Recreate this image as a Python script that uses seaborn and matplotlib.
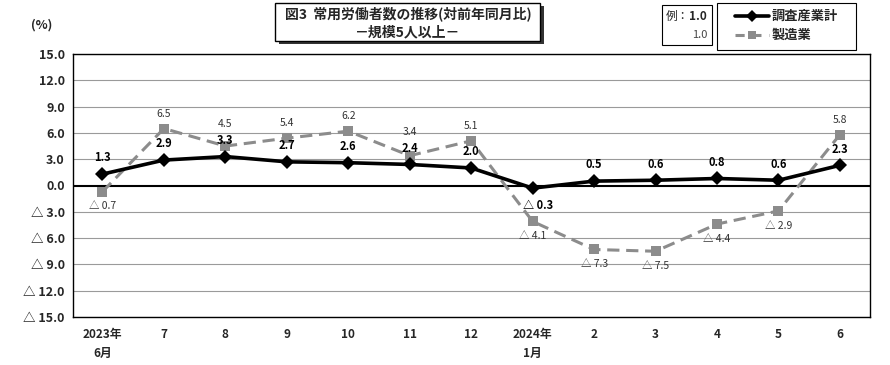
import matplotlib
matplotlib.use("Agg")
import matplotlib.pyplot as plt
import seaborn as sns
import pandas as pd
from matplotlib.lines import Line2D
from matplotlib.patches import Rectangle

months = ["2023年\n6月", "7", "8", "9", "10", "11", "12", "2024年\n1月", "2", "3", "4", "5", "6"]
total = [1.3, 2.9, 3.3, 2.7, 2.6, 2.4, 2.0, -0.3, 0.5, 0.6, 0.8, 0.6, 2.3]
manuf = [-0.7, 6.5, 4.5, 5.4, 6.2, 3.4, 5.1, -4.1, -7.3, -7.5, -4.4, -2.9, 5.8]
yticks = [15, 12, 9, 6, 3, 0, -3, -6, -9, -12, -15]
series_names = ["調査産業計", "製造業"]

sns.set_theme(style="white")
FAM = ["Noto Sans CJK JP", "DejaVu Sans"]
plt.rcParams["font.family"] = FAM

def fmt(v):
    return f"{v:.1f}" if v >= 0 else f"△ {abs(v):.1f}"

W, H = 890, 365
def fx(x): return x / W
def fy(y): return 1 - y / H

fig = plt.figure(figsize=(8.9, 3.65), dpi=100)
ax = fig.add_axes([fx(73), fy(317), (870-73)/W, (317-54)/H])

idx = list(range(len(months)))
df = pd.DataFrame({"pos": idx * 2,
                   "val": total + manuf,
                   "series": [series_names[0]] * len(idx) + [series_names[1]] * len(idx)})

for y in yticks:
    if y != 0:
        ax.axhline(y, color="#9a9a9a", lw=0.8, zorder=0)
ax.axhline(0, color="black", lw=1.5, zorder=1)

GREY = "#8c8c8c"
sns.lineplot(data=df[df.series == series_names[1]], x="pos", y="val", ax=ax,
             color=GREY, lw=2.2, linestyle=(0, (4, 2.2)), marker="s",
             markersize=7, markeredgewidth=0, legend=False, zorder=3)
sns.lineplot(data=df[df.series == series_names[0]], x="pos", y="val", ax=ax,
             color="black", lw=2.6, marker="D", markersize=7,
             markeredgewidth=0, legend=False, zorder=4)

# data labels
for i, v in enumerate(total):
    if v >= 0:
        ax.annotate(fmt(v), (i, v), xytext=(0, 7), textcoords="offset points",
                    ha="center", va="bottom", fontsize=8, fontweight="bold", color="black")
    else:
        ax.annotate(fmt(v), (i, v), xytext=(4, -8), textcoords="offset points",
                    ha="center", va="top", fontsize=8, fontweight="bold", color="black")
for i, v in enumerate(manuf):
    if v >= 0:
        if i in (2, 5):
            ax.annotate(fmt(v), (i, total[i]), xytext=(0, 20), textcoords="offset points",
                        ha="center", va="bottom", fontsize=7.5, color="#333333")
        else:
            ax.annotate(fmt(v), (i, v), xytext=(0, 7), textcoords="offset points",
                        ha="center", va="bottom", fontsize=7.5, color="#333333")
    else:
        ax.annotate(fmt(v), (i, v), xytext=(0, -7), textcoords="offset points",
                    ha="center", va="top", fontsize=7.5, color="#333333")

ax.set_xlim(-0.48, 12.49)
ax.set_ylim(-15, 15)
ax.set_yticks(yticks)
ax.set_yticklabels([fmt(y) for y in yticks], fontsize=9, fontweight="bold")
ax.set_xticks(idx)
ax.set_xticklabels(months, fontsize=8.5, fontweight="bold", linespacing=1.6, va="top")
ax.tick_params(axis="both", length=0, pad=6)
ax.tick_params(axis="x", pad=8)
ax.set_xlabel("")
ax.set_ylabel("")
for s in ax.spines.values():
    s.set_visible(True)
    s.set_color("black")
    s.set_linewidth(1.0)

fig.text(fx(42), fy(25), "(%)", fontsize=9, fontweight="bold", ha="center", va="center")

# title box with shadow
fig.patches.append(Rectangle((fx(279), fy(44)), 265/W, 38/H,
                             transform=fig.transFigure, facecolor="#333333",
                             edgecolor="none", zorder=1))
fig.patches.append(Rectangle((fx(275), fy(41)), 265/W, 38/H,
                             transform=fig.transFigure, facecolor="white",
                             edgecolor="black", lw=1.0, zorder=2))
fig.text(fx(408), fy(14), "図3  常用労働者数の推移(対前年同月比)", fontsize=10,
         fontweight="bold", ha="center", va="center", zorder=3)
fig.text(fx(408), fy(32), "－規模5人以上－", fontsize=10,
         fontweight="bold", ha="center", va="center", zorder=3)

# example box
fig.patches.append(Rectangle((fx(662), fy(45)), 50/W, 40/H,
                             transform=fig.transFigure, facecolor="white",
                             edgecolor="black", lw=0.8, zorder=2))
fig.text(fx(666), fy(16), "例：", fontsize=8.5, ha="left", va="center", zorder=3)
fig.text(fx(707), fy(16), "1.0", fontsize=8.5, fontweight="bold", ha="right", va="center", zorder=3)
fig.text(fx(707), fy(35), "1.0", fontsize=8, color="#444444", ha="right", va="center", zorder=3)

# legend box (manual)
fig.patches.append(Rectangle((fx(717), fy(50)), (856-717)/W, 47/H,
                             transform=fig.transFigure, facecolor="white",
                             edgecolor="black", lw=0.8, zorder=2))
fig.add_artist(Line2D([fx(735), fx(769)], [fy(16), fy(16)], transform=fig.transFigure,
                      color="black", lw=2.6, zorder=3))
fig.add_artist(Line2D([fx(752)], [fy(16)], transform=fig.transFigure, color="black",
                      marker="D", markersize=6, markeredgewidth=0, zorder=4))
fig.add_artist(Line2D([fx(735), fx(769)], [fy(35), fy(35)], transform=fig.transFigure,
                      color=GREY, lw=2.2, linestyle=(0, (3, 2.5)), zorder=3))
fig.add_artist(Line2D([fx(752)], [fy(35)], transform=fig.transFigure, color=GREY,
                      marker="s", markersize=6, markeredgewidth=0, zorder=4))
fig.text(fx(772), fy(16), series_names[0], fontsize=9.5, fontweight="bold",
         ha="left", va="center", zorder=3)
fig.text(fx(772), fy(35), series_names[1], fontsize=9.5, fontweight="bold",
         ha="left", va="center", zorder=3)

fig.savefig("out.png", dpi=100)
